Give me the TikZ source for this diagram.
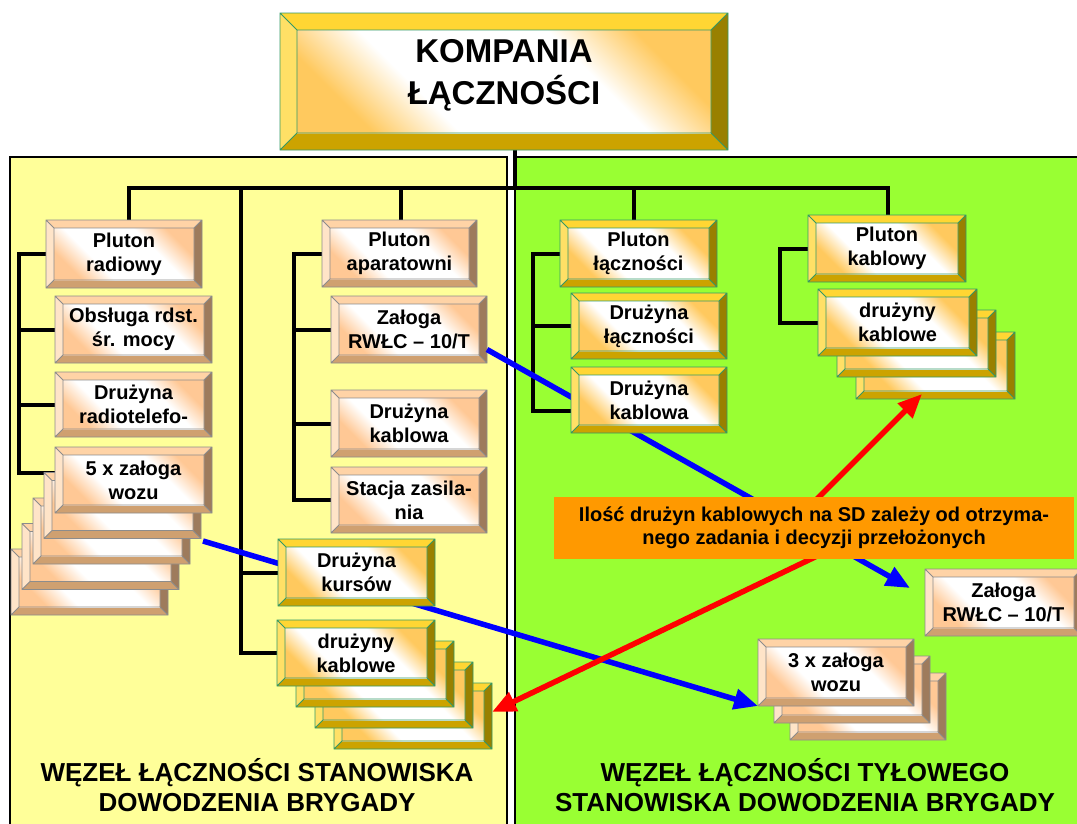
\documentclass[tikz,border=0pt]{standalone}
\usepackage{fontspec}
\setmainfont{Liberation Sans}
\usetikzlibrary{arrows.meta,calc}
\definecolor{panelY}{HTML}{FFFF99}
\definecolor{panelG}{HTML}{99FF33}
\definecolor{gT}{HTML}{FFD633}
\definecolor{gL}{HTML}{FFE066}
\definecolor{gB}{HTML}{CCA300}
\definecolor{gR}{HTML}{998000}
\definecolor{gO}{HTML}{339966}
\definecolor{gF}{HTML}{FFC95E}
\definecolor{tT}{HTML}{FFD3A6}
\definecolor{tL}{HTML}{FFE4C8}
\definecolor{tB}{HTML}{CFA070}
\definecolor{tR}{HTML}{9E7B5C}
\definecolor{tO}{HTML}{8C8C8C}
\definecolor{tF}{HTML}{FFC895}
\definecolor{noteO}{HTML}{FF9900}
\pgfdeclarehorizontalshading{gshade}{100bp}{color(0bp)=(gF); color(25bp)=(gF); color(37bp)=(white); color(63bp)=(white); color(75bp)=(gF); color(100bp)=(gF)}
\pgfdeclarehorizontalshading{tshade}{100bp}{color(0bp)=(tF); color(25bp)=(tF); color(37bp)=(white); color(63bp)=(white); color(75bp)=(tF); color(100bp)=(tF)}
\pgfdeclarelayer{panels}
\pgfdeclarelayer{lines}
\pgfdeclarelayer{lowboxes}
\pgfdeclarelayer{arrowlayer}
\pgfsetlayers{panels,lines,lowboxes,arrowlayer,main}
\tikzset{
  btxt/.style={font=\fontsize{20}{24}\selectfont\bfseries, align=center, inner sep=0pt},
  bigtxt/.style={font=\fontsize{33}{42}\selectfont\bfseries, align=center, inner sep=0pt, yshift=6pt},
  boxshape/.style={inner sep=0pt, outer sep=0pt, rectangle},
  conn/.style={line width=4pt, black, line cap=rect},
  bluearrow/.style={line width=5.5pt, color={rgb,255:red,0;green,0;blue,255}, -{Triangle[length=24pt,width=20pt]}},
  redarrow/.style={line width=5.5pt, red, -{Triangle[length=24pt,width=20pt]}},
  lbl/.style={font=\fontsize{26}{30}\selectfont\bfseries, align=center, inner sep=0pt},
  notebox/.style={fill=noteO, inner sep=0pt, minimum width=520pt, minimum height=62pt,
    font=\fontsize{20}{23.5}\selectfont\bfseries, align=center}
}
% #1 text style, #2 name, #3 x1, #4 y1, #5 x2, #6 y2, #7 bevel, #8 scheme, #9 text
\newcommand\bevelbox[9][btxt]{%
  \fill[#8T] (#3,#4) -- (#5,#4) -- ({#5-#7},{#4+#7}) -- ({#3+#7},{#4+#7}) -- cycle;
  \fill[#8L] (#3,#4) -- ({#3+#7},{#4+#7}) -- ({#3+#7},{#6-#7}) -- (#3,#6) -- cycle;
  \fill[#8B] (#3,#6) -- ({#3+#7},{#6-#7}) -- ({#5-#7},{#6-#7}) -- (#5,#6) -- cycle;
  \fill[#8R] (#5,#4) -- (#5,#6) -- ({#5-#7},{#6-#7}) -- ({#5-#7},{#4+#7}) -- cycle;
  \shade[shading=#8shade, shading angle=45] ({#3+#7},{#4+#7}) rectangle ({#5-#7},{#6-#7});
  \draw[#8O, line width=0.8pt] (#3,#4) rectangle (#5,#6) ({#3+#7},{#4+#7}) rectangle ({#5-#7},{#6-#7})
    (#3,#4) -- ({#3+#7},{#4+#7}) (#5,#4) -- ({#5-#7},{#4+#7})
    (#3,#6) -- ({#3+#7},{#6-#7}) (#5,#6) -- ({#5-#7},{#6-#7});
  \node[boxshape, minimum width={#5-#3}, minimum height={#6-#4}] (#2) at ({(#3+#5)/2},{(#4+#6)/2}) {};
  \node[#1] (#2-t) at (#2.center) {#9};
}
\begin{document}
\begin{tikzpicture}[x=1pt, y=-1pt]
\useasboundingbox (0,0) rectangle (1077,823);
\begin{pgfonlayer}{panels}
  \fill[white] (0,0) rectangle (1077,823);
  \path[draw=black, line width=1.5pt, fill=panelY] (10,157) rectangle (507,840);
  \path[draw=black, line width=1.5pt, fill=panelG] (515,157) rectangle (1090,840);
\end{pgfonlayer}

\begin{pgfonlayer}{lowboxes}
  \bevelbox[bigtxt]{top}{280}{13}{728}{150}{17}{g}{KOMPANIA\\ŁĄCZNOŚCI}
  % left column (tan)
  \bevelbox{prad}{46}{220}{202}{288}{8}{t}{Pluton\\radiowy}
  \bevelbox{obs}{55}{296}{212}{363}{8}{t}{Obsługa rdst.\\śr. mocy}
  \bevelbox{drad}{55}{372}{212}{437}{8}{t}{Drużyna\\radiotelefo-}
  \bevelbox{x5e}{11}{549}{168}{615}{8}{t}{}
  \bevelbox{x5d}{22}{523.5}{179}{589.5}{8}{t}{}
  \bevelbox{x5c}{33}{498}{190}{564}{8}{t}{}
  \bevelbox{x5b}{44}{472.5}{201}{538.5}{8}{t}{}
  \bevelbox{x5a}{55}{447}{212}{513}{8}{t}{5 x załoga\\wozu}
  % middle column
  \bevelbox{papar}{322}{220}{477}{287}{8}{t}{Pluton\\aparatowni}
  \bevelbox{zal1}{331}{296}{487}{363}{8}{t}{Załoga\\RWŁC – 10/T}
  \bevelbox{dkab1}{331}{390}{487}{457}{8}{t}{Drużyna\\kablowa}
  \bevelbox{stac}{331}{467}{487}{533}{8}{t}{Stacja zasila-\\nia}
  \bevelbox{dkl4}{334}{683}{492}{749}{8}{g}{}
  \bevelbox{dkl3}{315}{662}{473}{728}{8}{g}{}
  \bevelbox{dkl2}{296}{641}{454}{707}{8}{g}{}
  \bevelbox{dkl1}{277}{620}{435}{686}{8}{g}{drużyny\\kablowe}
  % green side
  \bevelbox{plac}{560}{220}{717}{287}{8}{g}{Pluton\\łączności}
  \bevelbox{dlac}{571}{293}{727}{359}{8}{g}{Drużyna\\łączności}
  \bevelbox{pkab}{808}{215}{966}{282}{8}{g}{Pluton\\kablowy}
  \bevelbox{dkw3}{856}{332}{1015}{399}{8}{g}{}
  \bevelbox{dkw2}{837}{310}{996}{377}{8}{g}{}
  \bevelbox{dkw1}{818}{289}{977}{356}{8}{g}{drużyny\\kablowe}
  \bevelbox{zal2}{925}{569}{1082}{636}{8}{t}{Załoga\\RWŁC – 10/T}
  \bevelbox{x3c}{790}{673}{946}{740}{8}{t}{}
  \bevelbox{x3b}{774}{656}{930}{723}{8}{t}{}
  \bevelbox{x3a}{758}{639}{914}{706}{8}{t}{3 x załoga\\wozu}
\end{pgfonlayer}

% boxes that lie over the arrows
\bevelbox{kurs}{278}{539}{435}{606}{8}{g}{Drużyna\\kursów}
\bevelbox{dkab2}{571}{367}{727}{433}{8}{g}{Drużyna\\kablowa}
\node[notebox] (note) at (814,528) {Ilość drużyn kablowych na SD zależy od otrzyma-\\nego zadania i decyzji przełożonych};

% bottom labels
\node[lbl] (lblL) at (257,785) {WĘZEŁ ŁĄCZNOŚCI STANOWISKA\\DOWODZENIA BRYGADY};
\node[lbl] (lblR) at (805,785) {WĘZEŁ ŁĄCZNOŚCI TYŁOWEGO\\STANOWISKA DOWODZENIA BRYGADY};

% connectors
\begin{pgfonlayer}{lines}
  \coordinate (bL) at (129,188);
  \coordinate (bR) at (888,188);
  \coordinate (bT) at (515,188);
  \coordinate (b2) at (241,188);
  \coordinate (b3) at (401,188);
  \coordinate (b4) at (634,188);
  \coordinate (lt) at (19,254);
  \coordinate (mt) at (294,254);
  \coordinate (gt) at (533,254);
  \coordinate (rt) at (780,254);
  \draw[conn] (top.south -| bT) -- (bT);
  \draw[conn] (prad.north -| bL) -- (bL) -- (bR) -- (pkab.north -| bR);
  \draw[conn] (b3) -- (papar.north -| b3);
  \draw[conn] (b4) -- (plac.north -| b4);
  \draw[conn] (b2) -- (dkl1.west -| b2) -- (dkl1.west);
  \draw[conn] (kurs.west -| b2) -- (kurs.west);
  \draw[conn] (prad.west) -- (prad.west -| lt) -- ([yshift=7pt]x5a.west -| lt) -- ([yshift=7pt]x5a.west);
  \draw[conn] (obs.west -| lt) -- (obs.west);
  \draw[conn] (drad.west -| lt) -- (drad.west);
  \draw[conn] (papar.west) -- (papar.west -| mt) -- (stac.west -| mt) -- (stac.west);
  \draw[conn] (zal1.west -| mt) -- (zal1.west);
  \draw[conn] (dkab1.west -| mt) -- (dkab1.west);
  \draw[conn] (plac.west) -- (plac.west -| gt) -- ([yshift=-11pt]dkab2.west -| gt) -- ([yshift=-11pt]dkab2.west);
  \draw[conn] (dlac.west -| gt) -- (dlac.west);
  \draw[conn] (pkab.west) -- (pkab.west -| rt) -- (dkw1.west -| rt) -- (dkw1.west);
\end{pgfonlayer}

% arrows
\begin{pgfonlayer}{arrowlayer}
  \coordinate (b1s) at (203,541);
  \coordinate (b2e) at (910,588);
  \coordinate (r1s) at (790,526);
  \coordinate (r1e) at (922,394);
  \coordinate (r2s) at (840,545);
  \draw[bluearrow] (b1s) -- (x3a.south west);
  \draw[bluearrow] ([yshift=-20pt]zal1.east) -- (b2e);
  \draw[redarrow] (r1s) -- (r1e);
  \draw[redarrow] (r2s) -- ([yshift=4pt]dkl4.east);
\end{pgfonlayer}
\end{tikzpicture}
\end{document}
